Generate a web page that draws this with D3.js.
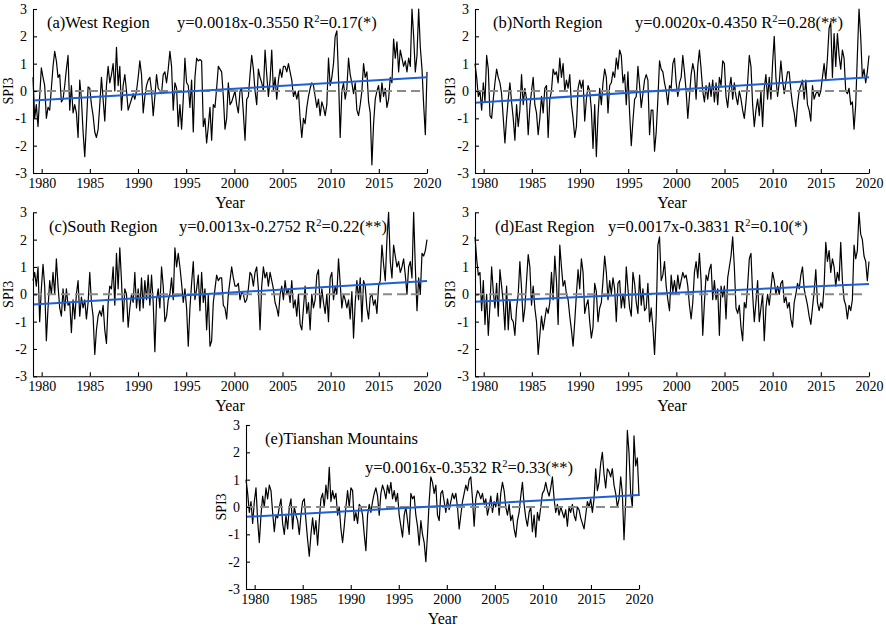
<!DOCTYPE html>
<html>
<head>
<meta charset="utf-8">
<script src="https://cdn.jsdelivr.net/npm/d3@7/dist/d3.min.js"></script>
<style>
  html, body { margin: 0; padding: 0; background: #fff; }
  svg { display: block; }
</style>
</head>
<body>
<svg id="chart" width="886" height="629"></svg>
<script>
// ---------------- DATA ----------------
const yearTicks = [1980, 1985, 1990, 1995, 2000, 2005, 2010, 2015, 2020];
const spiTicks = [-3, -2, -1, 0, 1, 2, 3];
const timeStart = 1979.1, timeEnd = 2020.0;

const panelTitles = ["(a)West Region", "(b)North Region", "(c)South Region", "(d)East Region", "(e)Tianshan Mountains"];
const eqLeft = ["y=0.0018x-0.3550 R", "y=0.0020x-0.4350 R", "y=0.0013x-0.2752 R", "y=0.0017x-0.3831 R", "y=0.0016x-0.3532 R"];
const eqRight = ["=0.17(*)", "=0.28(**)", "=0.22(**)", "=0.10(*)", "=0.33(**)"];
// trend line values at start and end of the axis
const trendStart = [-0.35, -0.43, -0.37, -0.27, -0.36];
const trendEnd = [0.50, 0.50, 0.49, 0.38, 0.44];

const spiWest = [
 0.5,-1.0,-0.5,-1.3,-0.2,0.85,0.5,0.2,-1.0,-0.6,
 -0.7,0.1,0.9,1.45,1.1,0.5,0.6,-0.4,-0.3,0.2,
 0.8,1.3,-0.7,0.2,-0.8,-0.5,-0.8,-1.7,0.4,-0.3,
 -1.5,-2.4,-1.2,0.15,0.1,-0.5,-0.9,-1.5,-1.7,-1.4,
 -0.5,0.5,-0.3,-1.1,0.2,0.9,0.3,0.6,1.0,0.0,
 1.6,0.2,0.9,-0.7,0.2,0.6,0.0,-0.7,-0.5,-0.3,
 -0.1,-0.3,0.0,0.5,1.1,0.6,-0.8,-0.2,0.2,0.4,
 0.5,0.0,-0.9,-0.2,0.6,0.1,0.0,-0.1,0.6,0.7,
 0.3,0.8,1.45,0.9,-0.7,0.3,0.1,-1.3,-0.5,-1.4,
 -0.3,1.2,0.3,0.2,-0.6,0.4,-1.5,0.5,1.2,1.1,
 1.15,1.1,-1.3,-1.0,-1.9,-1.3,-0.6,-1.8,-0.5,-0.6,
 0.1,0.9,0.8,0.7,-0.2,-1.4,-1.0,0.3,-0.5,
 -0.4,-0.2,0.0,-0.5,-0.8,0.0,0.1,-0.8,-1.8,-0.3,
 -0.2,0.6,1.3,0.8,0.0,-0.5,0.8,0.5,0.3,0.0,
 1.5,0.6,-0.2,0.4,1.5,0.0,0.5,-0.3,0.4,0.8,
 0.5,0.9,0.9,0.7,1.0,0.7,0.4,-0.2,0.0,-0.3,
 0.0,-1.0,-1.7,-1.0,-1.2,-0.6,-0.2,0.1,0.3,0.2,
 -0.2,-0.6,-0.3,-0.9,-0.4,-0.6,-0.9,-0.5,1.2,0.2,
 0.5,1.0,2.0,2.2,0.5,-1.7,0.0,0.3,-0.3,0.1,
 1.2,0.6,0.3,-0.1,0.3,-0.7,-0.9,-0.5,0.0,1.0,
 0.5,0.7,-0.4,-0.8,-2.7,-1.2,-0.3,0.0,0.2,-0.4,
 0.3,-0.2,0.1,-0.6,-0.3,0.5,0.3,1.9,1.2,1.8,
 0.7,1.5,1.2,0.9,1.1,0.7,1.2,0.9,3.0,2.0,
 0.7,1.3,3.0,1.6,0.8,-0.5,-1.6,0.7
];

const spiNorth = [
 1.0,0.5,-0.2,0.0,-0.7,0.3,-0.4,1.3,0.8,-0.9,
 -1.0,-0.3,0.3,0.8,0.5,0.3,-0.1,-1.0,-1.9,-1.0,
 -0.3,0.3,-0.4,-1.0,-1.8,-0.5,-1.3,-0.7,0.6,-0.5,
 0.1,-0.3,-1.6,-0.6,0.0,0.5,-0.5,-0.8,-1.6,-1.0,
 -0.2,-0.8,0.1,0.2,-1.7,-0.3,0.0,0.8,0.6,0.7,
 0.3,1.2,0.5,1.0,0.0,0.4,0.1,0.6,-0.5,-1.0,
 -1.7,-1.3,0.1,0.4,0.1,0.4,-1.1,-0.3,0.2,0.0,
 -0.7,-2.1,-0.5,-2.4,-0.9,0.1,-0.5,0.3,0.8,0.5,
 -0.8,0.2,0.3,0.7,0.5,1.2,0.8,1.5,1.3,0.3,
 0.6,-0.5,0.7,-0.8,-2.0,-1.1,-0.3,-0.2,0.9,0.2,
 -0.6,-0.1,0.4,0.6,0.4,-1.6,-0.7,-0.7,-2.2,-1.5,
 -0.3,1.1,0.8,0.7,0.3,0.0,-0.5,0.2,
 0.1,1.0,1.2,0.3,-0.2,0.3,0.5,1.3,0.7,0.0,
 -1.0,-0.2,0.6,1.0,0.7,-0.3,0.9,1.5,0.8,0.0,
 -0.4,0.2,-0.3,0.3,-0.2,0.4,-0.4,0.3,-0.5,0.5,
 0.2,1.1,1.0,-0.2,-0.6,0.1,0.5,-0.3,0.3,-0.2,
 -0.5,0.0,-0.3,-0.7,-1.0,-0.4,0.3,1.3,0.9,-0.5,
 -1.3,-0.7,-0.3,-0.9,0.0,-1.3,0.1,0.6,-0.3,0.5,
 -0.3,1.0,2.0,0.5,-0.2,0.3,1.1,0.4,-0.1,0.3,
 0.7,0.7,0.0,-0.5,-0.8,-1.3,-0.5,0.0,0.2,0.4,
 -0.3,0.4,-0.5,-0.7,-1.1,0.2,-0.3,-0.1,0.0,-0.2,
 0.0,0.5,1.0,0.4,1.2,2.3,2.5,0.5,2.1,0.9,
 2.1,1.3,0.8,1.5,1.2,0.0,-0.1,0.1,-0.5,-0.4,
 -1.4,-0.5,1.3,3.0,2.0,0.5,0.8,0.3,0.7,1.3
];

const spiSouth = [
 0.5,0.8,0.3,1.0,-1.0,0.2,1.1,0.3,-1.7,-0.5,
 0.5,0.0,0.8,0.0,1.3,0.3,-0.5,-0.8,0.2,-0.6,
 0.2,-0.4,-0.3,-1.4,-0.2,-0.9,0.0,0.5,-0.8,-0.1,
 -0.5,-0.2,-0.9,-0.3,0.8,-0.3,-0.8,-2.2,-1.3,-0.8,
 -0.6,-0.8,-0.4,-1.3,-1.8,-0.3,0.3,0.2,1.0,-0.4,
 1.5,0.2,1.7,0.5,-1.0,0.2,0.0,-1.2,-0.5,0.0,
 -0.3,0.8,-0.5,0.2,-0.6,0.6,-0.5,0.5,-0.2,0.7,
 -0.4,0.7,-0.3,-2.1,-0.2,0.2,-0.5,1.0,0.3,-1.0,
 -0.8,-0.2,0.0,0.6,-0.2,1.7,1.0,1.5,1.0,0.4,
 -0.3,0.2,-0.5,-1.9,-0.5,0.4,1.2,-0.2,0.2,0.7,
 -0.6,0.8,-0.3,0.2,-1.3,0.0,-1.9,-1.7,-0.3,0.2,
 0.7,0.5,0.6,0.6,-0.4,-0.5,-0.9,0.0,0.5,
 1.0,0.6,0.3,0.3,0.4,-0.2,0.1,0.0,-0.3,-0.2,
 0.2,0.8,0.7,0.3,0.8,1.0,0.2,-1.3,0.3,1.0,
 0.6,0.8,0.3,0.8,0.5,0.2,-0.3,-0.5,-0.8,0.0,
 0.3,-0.2,0.5,0.0,0.2,-0.3,0.5,-0.5,-0.2,-0.8,
 0.0,-1.1,-1.3,-0.5,0.3,-0.7,-0.3,-1.3,0.0,-0.5,
 -0.2,0.7,0.9,-0.5,0.2,-0.3,-0.7,0.0,-1.0,0.6,
 0.8,-0.2,0.3,0.0,1.3,0.4,-0.5,0.0,-0.2,-0.5,
 -0.2,-0.9,0.1,-1.6,-0.3,0.5,-0.2,0.6,-1.0,0.5,
 0.3,-0.5,-0.9,-0.1,0.0,-0.4,-0.2,-0.7,0.3,0.5,
 1.8,1.1,0.5,2.0,3.0,1.2,0.6,1.8,1.4,1.0,
 1.2,0.8,1.0,1.3,0.7,0.0,1.0,1.2,0.6,3.0,
 1.0,-0.6,0.6,0.0,1.5,1.4,1.6,2.0
];

const spiEast = [
 2.1,1.3,0.7,0.8,-0.6,0.5,-1.1,0.0,-1.5,-0.4,
 1.0,0.1,-0.5,0.4,-0.8,0.9,0.3,-0.3,-1.3,0.3,
 -1.3,-0.2,-0.9,-1.0,-1.5,-0.5,0.0,1.2,0.2,-1.0,
 -0.5,0.5,1.45,1.0,-0.4,0.3,-0.5,-1.0,-2.2,-1.5,
 -0.8,-1.3,-0.9,-0.5,-0.7,-0.3,0.8,-0.2,1.4,0.5,
 -1.1,1.8,1.0,0.3,0.5,0.0,-0.2,-0.8,-1.3,-1.9,
 -1.0,0.0,0.9,0.2,1.3,0.8,-0.7,-0.4,-0.2,-1.0,
 -1.6,-1.2,0.4,0.1,-1.0,-0.5,-0.3,0.5,1.4,0.8,
 -0.2,0.5,0.0,0.6,0.2,-1.0,0.4,0.5,-0.5,0.0,
 -0.5,1.0,0.2,-0.5,-0.8,0.8,0.4,-0.3,-0.7,0.7,
 -0.4,0.2,-0.6,-0.5,0.4,-1.0,-0.5,-1.2,-2.2,-0.8,
 1.8,2.1,0.5,0.7,1.2,0.3,-0.2,-0.6,
 0.7,0.1,0.5,0.0,0.7,0.2,0.5,0.8,0.6,0.7,
 0.3,-0.4,-0.9,-0.3,0.8,1.2,0.6,1.5,0.5,-1.5,
 -0.3,0.7,0.5,0.9,1.1,-0.2,0.5,-0.2,0.2,-1.5,
 0.3,-0.1,0.3,-0.9,0.6,1.0,1.4,2.1,1.0,-0.5,
 -0.7,-0.4,-1.2,-1.7,-0.3,-0.5,0.3,1.3,1.5,0.0,
 -1.0,-0.3,0.5,-1.0,-0.5,0.0,-1.7,-0.5,0.0,-0.4,
 0.2,0.8,0.5,0.0,0.3,0.0,0.4,0.5,-0.3,-0.1,
 -0.5,-0.3,-0.9,-1.2,-0.3,0.0,0.4,0.2,0.7,1.0,
 0.2,-0.1,-0.4,-0.8,-1.1,-0.5,0.1,0.9,-0.3,-0.6,
 -0.3,-0.5,0.3,1.9,1.2,1.6,0.8,1.3,1.0,0.3,
 0.8,0.5,1.9,0.5,-0.2,-0.4,-0.9,-0.4,-0.6,-0.2,
 1.8,1.3,1.6,3.0,2.2,2.0,1.4,1.2,0.5,1.2
];

const spiTianshan = [
 1.0,0.5,-0.2,0.2,-0.6,0.2,0.7,-0.5,-1.3,-0.3,
 0.4,0.0,0.7,0.3,0.8,0.6,-0.2,-0.9,-0.3,-0.4,
 0.0,0.3,-0.6,-1.0,-0.3,-0.8,0.0,0.3,-0.8,0.0,
 -0.3,-0.5,-1.0,-0.3,0.2,0.3,-0.5,-1.2,-1.8,-1.0,
 -0.4,-1.0,-0.5,-1.4,-0.5,0.3,0.5,0.0,0.8,0.3,
 1.45,0.2,0.6,0.3,0.5,-0.3,0.0,-0.8,-1.3,-0.7,
 0.0,0.6,0.0,0.7,0.6,-0.5,-0.2,-0.6,0.1,0.0,
 -0.3,-1.0,-1.6,-0.3,0.1,-0.2,0.2,0.5,0.7,0.4,
 -0.3,0.5,0.8,0.6,0.3,0.8,0.5,0.9,0.3,0.6,
 0.2,0.5,-0.3,-0.7,-1.1,-0.3,0.0,-0.5,-1.0,0.5,
 0.3,0.4,-0.3,-0.7,-1.4,-0.5,-1.0,-1.3,-2.0,-1.0,
 0.2,1.1,0.9,0.5,0.8,-0.3,-0.5,
 0.5,0.6,0.2,-0.2,0.3,-0.1,0.2,0.5,0.3,0.5,
 0.0,-0.8,-0.3,0.2,0.5,0.8,0.6,1.0,1.1,0.3,
 -0.7,0.3,0.6,0.5,0.3,0.5,0.1,0.3,-0.3,0.0,
 0.4,-0.2,0.2,0.0,0.5,-0.3,0.5,0.9,0.6,0.0,
 -0.3,0.1,-0.5,-0.3,-0.8,-1.1,-0.5,-0.2,0.4,0.9,
 0.1,-0.4,-0.7,-0.2,0.0,-0.9,-0.3,-1.1,-0.2,-0.5,
 0.0,0.5,0.6,0.9,0.6,0.4,0.7,1.1,0.3,-0.2,
 0.1,-0.3,0.0,-0.2,-0.4,-0.1,-0.7,0.0,-0.2,0.1,
 -0.3,-0.5,0.0,-0.1,-0.4,-0.6,-0.8,-0.3,0.2,0.0,
 0.3,-0.2,0.3,1.4,0.6,0.9,1.6,2.0,1.2,0.7,
 1.4,1.3,1.1,1.4,0.8,0.5,0.0,0.3,1.1,0.5,
 -1.2,0.2,2.8,2.0,0.5,0.0,2.6,1.5,1.8,0.4
];

const seriesList = [spiWest, spiNorth, spiSouth, spiEast, spiTianshan];

// ---------------- LAYOUT ----------------
const layout = [
  { x: 33,  y: 9,     w: 394, h: 164, titleX: 47,  eqX: 177, eqDy: 0 },
  { x: 475, y: 9,     w: 394, h: 164, titleX: 493, eqX: 635, eqDy: 0 },
  { x: 33,  y: 212.3, w: 394, h: 164, titleX: 49,  eqX: 179, eqDy: 0 },
  { x: 475, y: 212.3, w: 394, h: 164, titleX: 495, eqX: 608, eqDy: 0 },
  { x: 246, y: 425,   w: 393, h: 164, titleX: 265, eqX: 365, eqDy: 29 }
];

const FONT = "'Liberation Serif', 'Times New Roman', serif";
const svg = d3.select("#chart");
svg.append("rect").attr("width", 886).attr("height", 629).attr("fill", "#fff");

layout.forEach((L, p) => {
  const g = svg.append("g");
  const x = d3.scaleLinear().domain([timeStart, timeEnd]).range([L.x, L.x + L.w]);
  const y = d3.scaleLinear().domain([-3, 3]).range([L.y + L.h, L.y]);
  const vals = seriesList[p];
  const n = vals.length;
  const tAt = i => timeStart + i * (timeEnd - timeStart) / (n - 1);

  // series line
  const line = d3.line().x((d, i) => x(tAt(i))).y(d => y(d));
  g.append("path").datum(vals)
    .attr("d", line)
    .attr("fill", "none")
    .attr("stroke", "#000")
    .attr("stroke-width", 1.2)
    .attr("stroke-linejoin", "round");

  // zero dashed reference
  g.append("line")
    .attr("x1", x(timeStart)).attr("x2", x(2019.75))
    .attr("y1", y(0)).attr("y2", y(0))
    .attr("stroke", "#8a8a8a").attr("stroke-width", 2)
    .attr("stroke-dasharray", "9,5");

  // trend line
  g.append("line")
    .attr("x1", x(timeStart)).attr("x2", x(timeEnd))
    .attr("y1", y(trendStart[p])).attr("y2", y(trendEnd[p]))
    .attr("stroke", "#1f5fd6").attr("stroke-width", 2);

  // axes
  const ax = g.append("g").attr("transform", `translate(0,${L.y + L.h})`)
    .call(d3.axisBottom(x).tickValues(yearTicks).tickFormat(d => String(d))
      .tickSizeInner(-4).tickSizeOuter(0).tickPadding(5));
  const ay = g.append("g").attr("transform", `translate(${L.x},0)`)
    .call(d3.axisLeft(y).tickValues(spiTicks).tickFormat(d => String(d))
      .tickSizeInner(-4).tickSizeOuter(0).tickPadding(6));
  [ax, ay].forEach(a => {
    a.attr("font-family", FONT).attr("font-size", 14);
    a.selectAll("path.domain").attr("stroke", "#000").attr("stroke-width", 1.1);
    a.selectAll(".tick line").attr("stroke", "#000").attr("stroke-width", 1.1);
    a.selectAll(".tick text").attr("fill", "#000");
  });

  // axis titles
  g.append("text")
    .attr("x", L.x + L.w / 2).attr("y", L.y + L.h + 34.5)
    .attr("text-anchor", "middle")
    .attr("font-family", FONT).attr("font-size", 16)
    .text("Year");
  g.append("text")
    .attr("transform", `translate(${L.x - 20},${L.y + L.h / 2}) rotate(-90)`)
    .attr("text-anchor", "middle")
    .attr("font-family", FONT).attr("font-size", 14)
    .text("SPI3");

  // panel title
  const base = L.y + 19.3;
  g.append("text")
    .attr("x", L.titleX).attr("y", base)
    .attr("font-family", FONT).attr("font-size", 16.5)
    .text(panelTitles[p]);

  // equation
  const eq = g.append("text")
    .attr("x", L.eqX).attr("y", base + L.eqDy)
    .attr("font-family", FONT).attr("font-size", 16.5);
  eq.append("tspan").text(eqLeft[p]);
  eq.append("tspan").attr("font-size", 10.5).attr("dy", -6).text("2");
  eq.append("tspan").attr("font-size", 16.5).attr("dy", 6).text(eqRight[p]);
});
</script>
</body>
</html>
